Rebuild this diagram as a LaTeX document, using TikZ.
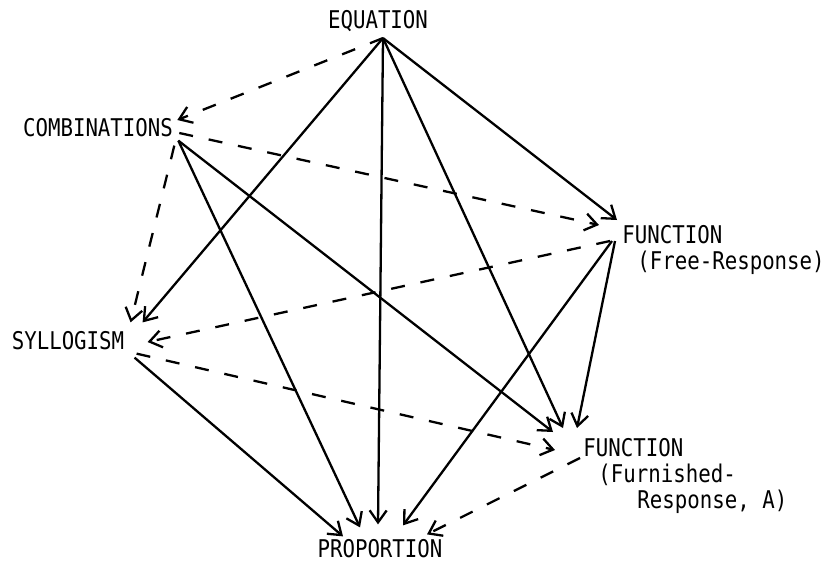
\documentclass[tikz,border=0pt]{standalone}
\usepackage{fontspec}
\newfontfamily\typefont[FakeStretch=0.85]{DejaVu Sans Mono}
\usetikzlibrary{arrows.meta,calc}

\begin{document}
\begin{tikzpicture}[x=0.5pt, y=-0.5pt,
    >={Straight Barb[length=6pt,width=8.5pt]},
    topic/.style={inner sep=3pt, font=\typefont\fontsize{12.2}{13}\selectfont},
    link/.style={->, line width=1.15pt},
    weak/.style={->, line width=1.15pt, dash pattern=on 7pt off 8pt}]

    \useasboundingbox (0,0) rectangle (824,564);

    \node[topic] (eq) at (378,21) {EQUATION};
    \node[topic] (comb) at (98,128) {COMBINATIONS};
    \node[topic] (syll) at (68,341) {SYLLOGISM};
    \node[topic, align=left, anchor=north west] (free) at (616,219)
        {FUNCTION\\\hspace*{7.5pt}(Free-Response)};
    \node[topic, align=left, anchor=north west] (furn) at (577,432)
        {FUNCTION\\\hspace*{7.5pt}(Furnished-\\\hspace*{27pt}Response, A)};
    \node[topic] (prop) at (380,549) {PROPORTION};

    % from EQUATION
    \draw[weak] ($(eq.south)+(5,0)$) -- ($(comb.east)+(-2,-8)$);
    \draw[link] ($(eq.south)+(5,0)$) -- ($(free.north west)+(1,1)$);
    \draw[link] ($(eq.south)+(5,0)$) -- ($(syll.north east)+(12,-3)$);
    \draw[link] ($(eq.south)+(5,0)$) -- ($(prop.north)+(-2,-9)$);
    \draw[link] ($(eq.south)+(5,0)$) -- ($(furn.north west)+(-14,-4)$);

    % from COMBINATIONS
    \draw[weak] ($(comb.east)+(0,5)$) -- ($(free.north west)+(-17,6)$);
    \draw[weak] ($(comb.south east)+(-5,2)$) -- ($(syll.north east)+(0,-3)$);
    \draw[link] ($(comb.south east)+(-1,-3)$) -- ($(prop.north)+(-20,-6)$);
    \draw[link] ($(comb.south east)+(-1,-3)$) -- ($(furn.north west)+(-24,0)$);

    % from FUNCTION (Free-Response)
    \draw[weak] ($(free.north west)+(-6,22)$) -- ($(syll.east)+(17,1)$);
    \draw[link] ($(free.north west)+(-1,22)$) -- ($(furn.north west)+(0,-4)$);
    \draw[link] ($(free.north west)+(-4,22)$) -- ($(prop.north)+(23,-8)$);

    % from SYLLOGISM
    \draw[weak] ($(syll.south east)+(6,-3)$) -- ($(furn.north west)+(-22,18)$);
    \draw[link] ($(syll.south east)+(4,1)$) -- ($(prop.north)+(-37,3)$);

    % from FUNCTION (Furnished-Response, A)
    \draw[weak] ($(furn.north west)+(3,26)$) -- ($(prop.north)+(47,1)$);
\end{tikzpicture}
\end{document}
